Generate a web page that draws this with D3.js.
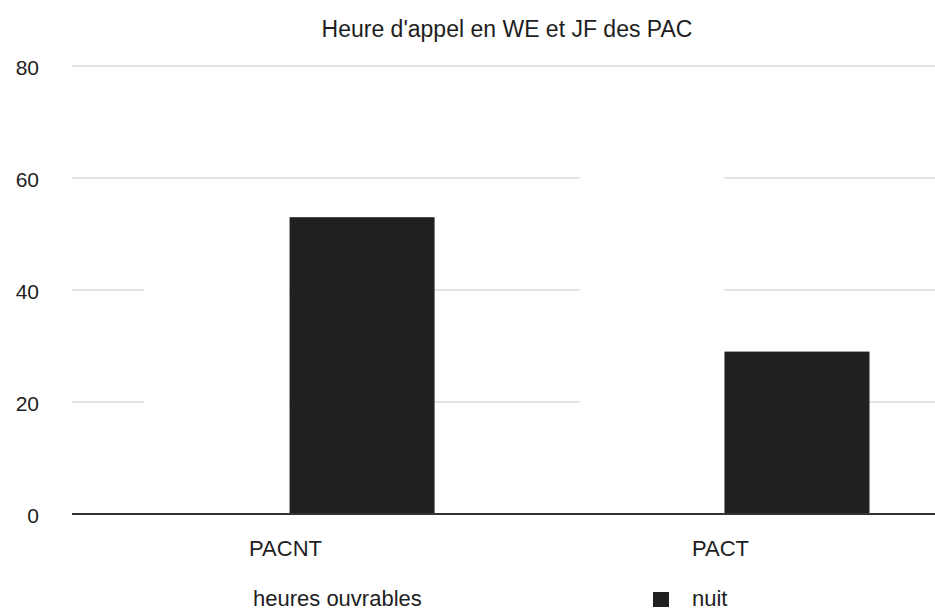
<!DOCTYPE html>
<html>
<head>
<meta charset="utf-8">
<script src="https://cdn.jsdelivr.net/npm/d3@7"></script>
<style>
  body { margin: 0; background: #fff; }
  text { font-family: "Liberation Sans", Arial, sans-serif; fill: #1e1e1e; }
</style>
</head>
<body>
<div id="chart"></div>
<script>
// chart data
var categories = ["PACNT", "PACT"];
var seriesNames = ["heures ouvrables", "nuit"];
var heuresOuvrables = [47, 71];
var nuit = [53, 29];
var yTicks = [0, 20, 40, 60, 80];
var title = "Heure d'appel en WE et JF des PAC";

var svgWidth = 935;
var svgHeight = 614;

var margin = { top: 66, right: -7, bottom: 100, left: 72 };
var width = svgWidth - margin.left - margin.right;
var height = svgHeight - margin.top - margin.bottom;

var svg = d3.select("#chart")
  .append("svg")
  .attr("width", svgWidth)
  .attr("height", svgHeight);

var chartGroup = svg.append("g")
  .attr("transform", `translate(${margin.left}, ${margin.top})`);

// scales
var x0 = d3.scaleBand()
  .domain(categories)
  .range([0, width])
  .paddingInner(0.333)
  .paddingOuter(0.1667);

var x1 = d3.scaleBand()
  .domain(seriesNames)
  .range([0, x0.bandwidth()]);

var y = d3.scaleLinear()
  .domain([0, 80])
  .range([height, 0]);

var color = d3.scaleOrdinal()
  .domain(seriesNames)
  .range(["#ffffff", "#202020"]);

// gridlines
chartGroup.append("g")
  .selectAll("line")
  .data(yTicks.filter(d => d > 0))
  .enter().append("line")
  .attr("x1", 0)
  .attr("x2", width)
  .attr("y1", d => y(d))
  .attr("y2", d => y(d))
  .attr("stroke", "#c8c8c8")
  .attr("stroke-width", 1.2);

// y tick labels
var yAxis = d3.axisLeft(y).tickValues(yTicks).tickSize(0).tickPadding(33);
var yg = chartGroup.append("g").call(yAxis);
yg.select(".domain").remove();
yg.selectAll("text")
  .attr("font-size", 21)
  .attr("dy", "0.42em")
  .style("font-family", "'Liberation Sans', Arial, sans-serif")
  .attr("fill", "#1e1e1e");

// bars
var rows = categories.map(function(c, i) {
  return { cat: c, values: [
    { key: seriesNames[0], value: heuresOuvrables[i] },
    { key: seriesNames[1], value: nuit[i] }
  ]};
});

var groups = chartGroup.selectAll(".grp")
  .data(rows)
  .enter().append("g")
  .attr("class", "grp")
  .attr("transform", d => `translate(${x0(d.cat)}, 0)`);

groups.selectAll("rect")
  .data(d => d.values)
  .enter().append("rect")
  .attr("x", d => x1(d.key))
  .attr("width", x1.bandwidth())
  .attr("y", d => y(d.value))
  .attr("height", d => height - y(d.value))
  .attr("fill", d => color(d.key));

// x axis line
chartGroup.append("line")
  .attr("x1", 0)
  .attr("x2", width)
  .attr("y1", height)
  .attr("y2", height)
  .attr("stroke", "#333")
  .attr("stroke-width", 2);

// category labels
chartGroup.selectAll(".cat")
  .data(categories)
  .enter().append("text")
  .attr("class", "cat")
  .attr("x", d => x0(d) + x0.bandwidth() / 2 - 4)
  .attr("y", height + 42)
  .attr("text-anchor", "middle")
  .attr("font-size", 22)
  .text(d => d);

// title, centred over the plot area
svg.append("text")
  .attr("x", margin.left + width / 2)
  .attr("y", 37)
  .attr("text-anchor", "middle")
  .attr("font-size", 23)
  .text(title);

// legend
var legendX = [214, 653];
var legend = svg.selectAll(".legend")
  .data(seriesNames)
  .enter().append("g")
  .attr("class", "legend")
  .attr("transform", (d, i) => `translate(${legendX[i]}, 606)`);

legend.append("rect")
  .attr("x", 0)
  .attr("y", -14)
  .attr("width", 16)
  .attr("height", 15)
  .attr("fill", d => color(d));

legend.append("text")
  .attr("x", 39)
  .attr("y", 0)
  .attr("font-size", 22)
  .text(d => d);
</script>
</body>
</html>
